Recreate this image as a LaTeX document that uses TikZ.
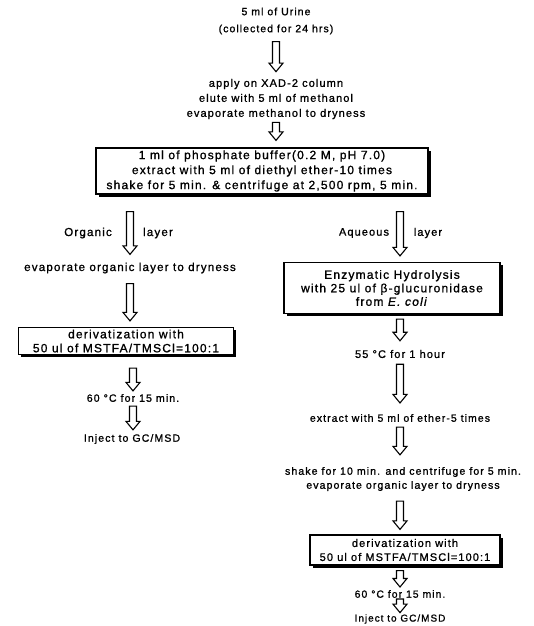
\documentclass[tikz,border=0pt]{standalone}
\usepackage{fontspec}
\setmainfont{Liberation Sans}[LetterSpace=10,FakeBold=1.1]
\usetikzlibrary{calc}
\newcommand\hollowarrow[2]{%
  \draw[harr] let \p1=#1, \p2=#2 in
    (\x1-3.5pt,\y1) -- (\x1-3.5pt,\y2+8.5pt) -- (\x1-7pt,\y2+8.5pt) -- (\x1,\y2)
    -- (\x1+7pt,\y2+8.5pt) -- (\x1+3.5pt,\y2+8.5pt) -- (\x1+3.5pt,\y1) -- cycle;}
\newcommand\fsz[2]{\fontsize{#1}{#2}\selectfont}
\begin{document}
\begin{tikzpicture}[x=1pt,y=1pt,
  txt/.style={align=center, inner sep=0pt, font=\fsz{11}{15}},
  stepbox/.style={txt, draw, line width=1.2pt, fill=white, minimum width=#1,
    preaction={fill=black, transform canvas={xshift=2.5pt, yshift=-2.5pt}}},
  harr/.style={draw, line width=1.1pt, fill=white, line join=miter}]
\useasboundingbox (0,0) rectangle (534,-626);

% main trunk
\node[txt, font=\fsz{10.5}{17}] (urine) at (276,-21) {5 ml of Urine\\(collected for 24 hrs)};
\node[txt] (xad) at (276,-99) {apply on XAD-2 column\\elute with 5 ml of methanol\\evaporate methanol to dryness};
\node[stepbox=332pt, minimum height=46pt, font=\fsz{12}{15}] (box1) at (262,-171)
  {1 ml of phosphate buffer(0.2 M, pH 7.0)\\extract with 5 ml of diethyl ether-10 times\\shake for 5 min. \& centrifuge at 2,500 rpm, 5 min.};

% organic branch
\node[txt, font=\fsz{11.6}{15}] (org) at (88,-233) {Organic};
\node[txt, font=\fsz{11.6}{15}] (layL) at (158,-233) {layer};
\node[txt, font=\fsz{11.6}{15}] (evapL) at (130,-268) {evaporate organic layer to dryness};
\node[stepbox=215pt, minimum height=27pt, font=\fsz{12}{14}] (boxL) at (126,-341)
  {derivatization with\\50 ul of MSTFA/TMSCl=100:1};
\node[txt, font=\fsz{10.6}{15}] (tempL) at (133,-398) {60 °C for 15 min.};
\node[txt, font=\fsz{10.6}{15}] (injL) at (132,-439) {Inject to GC/MSD};

% aqueous branch
\node[txt] (aq) at (364,-233) {Aqueous};
\node[txt] (layR) at (428,-233) {layer};
\node[stepbox=216pt, minimum height=51pt, font=\fsz{12}{13.5}] (boxR) at (392,-288)
  {Enzymatic Hydrolysis\\with 25 ul of β-glucuronidase\\from \textit{E. coli}};
\node[txt] (t55) at (400,-354) {55 °C for 1 hour};
\node[txt, font=\fsz{10.5}{15}] (ext) at (400,-418) {extract with 5 ml of ether-5 times};
\node[txt, font=\fsz{10.6}{14}] (shake) at (403,-479) {shake for 10 min. and centrifuge for 5 min.\\evaporate organic layer to dryness};
\node[stepbox=190pt, minimum height=30pt, font=\fsz{11}{14}] (boxR2) at (405,-550)
  {derivatization with\\50 ul of MSTFA/TMSCl=100:1};
\node[txt, font=\fsz{10.4}{15}] (tempR) at (400,-594) {60 °C for 15 min.};
\node[txt, font=\fsz{10}{15}] (injR) at (400,-619) {Inject to GC/MSD};

% arrows
\hollowarrow{($(urine.south)+(0,-7)$)}{($(xad.north)+(0,7)$)}
\hollowarrow{($(xad.south)+(0,-3)$)}{($(box1.north)+(0,7)$)}
\hollowarrow{($(box1.south -| evapL.north)+(0,-17)$)}{($(evapL.north)+(0,8)$)}
\hollowarrow{($(evapL.south)+(0,-10)$)}{($(boxL.north)+(0,6)$)}
\hollowarrow{($(boxL.south -| tempL.north)+(0,-13)$)}{($(tempL.north)+(0,3)$)}
\hollowarrow{($(tempL.south)+(0,-4)$)}{($(injL.north)+(0,4)$)}
\hollowarrow{($(box1.south -| t55.north)+(0,-17)$)}{($(boxR.north)+(0,6)$)}
\hollowarrow{($(boxR.south -| t55.north)+(0,-5)$)}{($(t55.north)+(0,9)$)}
\hollowarrow{($(t55.south)+(0,-6)$)}{($(ext.north)+(0,11)$)}
\hollowarrow{($(ext.south)+(0,-5)$)}{($(shake.north)+(0,12)$)}
\hollowarrow{($(shake.south -| ext.south)+(0,-10)$)}{($(boxR2.north)+(0,5)$)}
\hollowarrow{($(boxR2.south -| tempR.north)+(0,-5)$)}{($(tempR.north)+(0,3)$)}
\hollowarrow{($(tempR.south)+(0,-1)$)}{($(injR.north)+(0,1.5)$)}
\end{tikzpicture}
\end{document}
